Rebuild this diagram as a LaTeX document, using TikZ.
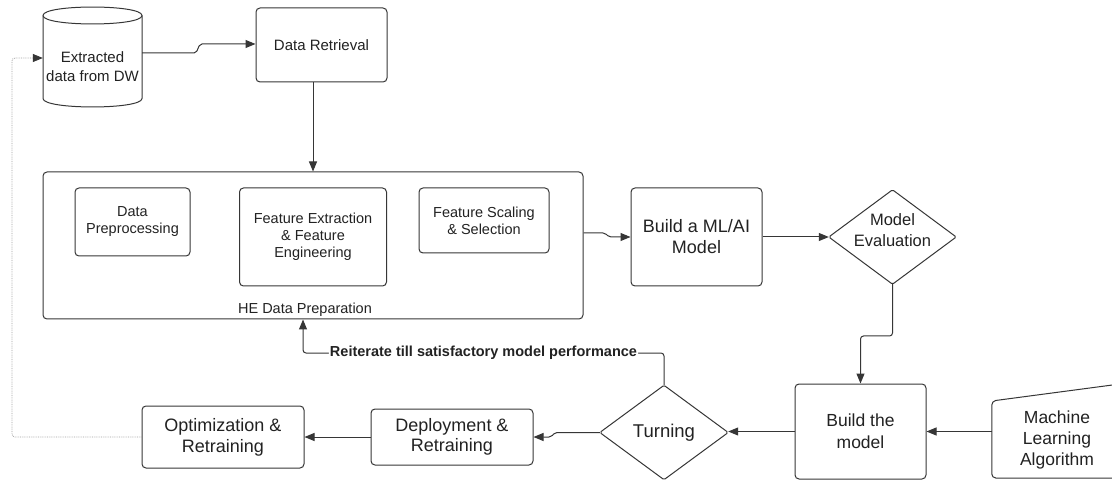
\documentclass[tikz,border=0pt]{standalone}
\usepackage{fontspec}
\setmainfont{Liberation Sans}
\usetikzlibrary{arrows.meta}
\definecolor{linec}{HTML}{363636}
\definecolor{txtc}{HTML}{222222}
\definecolor{dotc}{HTML}{A0A0A0}
\newcommand{\fsz}[2]{\fontsize{#1}{#2}\selectfont}
\begin{document}
\begin{tikzpicture}[x=1pt,y=-1pt,
  every node/.style={text=txtc, align=center, inner sep=0pt},
  boxnode/.style={draw=linec, line width=1pt, rounded corners=4pt, fill=white},
  ghost/.style={draw=none},
  shapeline/.style={draw=linec, line width=1pt},
  conn/.style={draw=linec, line width=1pt, rounded corners=2pt, -{Triangle[length=10pt,width=8pt]}},
  dotconn/.style={draw=dotc, line width=0.8pt, densely dotted, rounded corners=3pt, -{Triangle[length=10pt,width=8pt,color=linec,fill=linec]}}
]
\clip (0,0) rectangle (1112,481);
\fill[white] (0,0) rectangle (1112,481);

% cylinder
\draw[shapeline, fill=white] (43,15.5) -- (43,98.5) .. controls (43,109.8) and (142,109.8) .. (142,98.5) -- (142,15.5) .. controls (142,4.2) and (43,4.2) .. (43,15.5) -- cycle;
\draw[shapeline] (43,15.5) .. controls (43,26.8) and (142,26.8) .. (142,15.5);
\node[ghost, minimum width=99pt, minimum height=81pt, font=\fsz{15}{19}] (dw) at (92.5,66.5) {Extracted\\data from DW};

% Data retrieval
\node[boxnode, minimum width=131pt, minimum height=74pt, font=\fsz{15}{18}] (dr) at (321.5,45) {Data Retrieval};

% HE data preparation
\node[boxnode, minimum width=540pt, minimum height=147pt] (he) at (313,245.5) {};
\node[font=\fsz{14.5}{17}] (helab) at (305,310) {HE Data Preparation};
\node[boxnode, minimum width=115pt, minimum height=68pt, font=\fsz{14.5}{17}] (dp) at (132.5,222) {Data\\Preprocessing};
\node[boxnode, minimum width=147pt, minimum height=98pt, font=\fsz{14.5}{17}] (fe) at (313,237) {Feature Extraction\\\& Feature\\Engineering};
\node[boxnode, minimum width=130pt, minimum height=65pt, font=\fsz{14.5}{17}] (fs) at (484,220.5) {Feature Scaling\\\& Selection};

% Build ML/AI model
\node[boxnode, minimum width=131pt, minimum height=98pt, font=\fsz{18}{21}] (ml) at (696.5,237) {Build a ML/AI\\Model};

% Model evaluation diamond
\node[ghost, minimum width=127pt, minimum height=94pt] (me) at (892.5,237) {};
\draw[shapeline, rounded corners=1.5pt, fill=white] (me.north) -- (me.east) -- (me.south) -- (me.west) -- cycle;
\node[font=\fsz{16.5}{21}] (metxt) at (892.5,230) {Model\\Evaluation};

% Build the model
\node[boxnode, minimum width=131pt, minimum height=95pt, font=\fsz{17.5}{22}] (btm) at (860.5,431.5) {Build the\\model};

% Machine learning algorithm (manual input shape)
\node[ghost, minimum width=130pt, minimum height=76pt, font=\fsz{17.5}{21}] (mla) at (1057,440) {Machine\\Learning\\Algorithm};
\draw[shapeline, rounded corners=4pt] (1135,382) -- (mla.west |- 0,401) -- (mla.west |- 0,478) -- (1135,478);

% Turning diamond
\node[ghost, minimum width=128pt, minimum height=94pt] (tu) at (664,432.5) {};
\draw[shapeline, rounded corners=1.5pt, fill=white] (tu.north) -- (tu.east) -- (tu.south) -- (tu.west) -- cycle;
\node[font=\fsz{18.5}{22}] (tutxt) at (664,432.5) {Turning};

% Deployment & Optimization
\node[boxnode, minimum width=162pt, minimum height=56pt, font=\fsz{18}{20}] (dep) at (452,437) {Deployment \&\\Retraining};
\node[boxnode, minimum width=162pt, minimum height=62pt, font=\fsz{18}{21}] (opt) at (223,437) {Optimization \&\\Retraining};

% connectors
\draw[conn] ([yshift=13.5pt]dw.east) -- (196,53) -- (200,44) -- (dr.west |- 0,44);
\draw[conn] ([xshift=-8.5pt]dr.south) -- ([xshift=-8.5pt]dr.south |- he.north);
\draw[conn] ([yshift=12.5pt]he.east) -- (605,233) -- (609,237) -- (ml.west);
\draw[conn] (ml.east) -- (me.west);
\draw[conn, rounded corners=3pt] (me.south) -- (me.south |- 0,336) -- (btm.north |- 0,336) -- (btm.north);
\draw[conn] (mla.west |- btm.east) -- (btm.east);
\draw[conn] (btm.west) -- (btm.west -| tu.east);
\draw[conn] (tu.west) -- (555,432.5) -- (551,437) -- (dep.east);
\draw[conn] (dep.west) -- (opt.east);
\draw[conn, rounded corners=3pt] (tu.north) -- (tu.north |- 0,353) -- ([xshift=-10pt]he.south |- 0,353)
   node[pos=0.5, fill=white, inner xsep=1pt, inner ysep=2pt, font=\fsz{14.5}{16}\bfseries] (reit) {Reiterate till satisfactory model performance}
   -- ([xshift=-10pt]he.south);
\draw[dotconn] (opt.west) -- (12,437) -- (12,58) -- ([yshift=8.5pt]dw.west);
\end{tikzpicture}
\end{document}
